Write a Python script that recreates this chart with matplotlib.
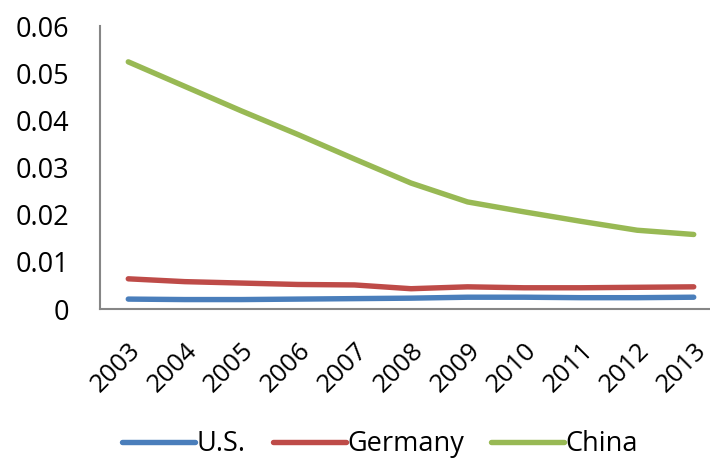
import matplotlib.pyplot as plt

years = ['2003', '2004', '2005', '2006', '2007', '2008', '2009', '2010', '2011', '2012', '2013']
us = [0.0021, 0.0020, 0.0020, 0.0021, 0.0022, 0.0023, 0.0025, 0.0025, 0.0024, 0.0024, 0.0025]
germany = [0.0064, 0.0058, 0.0055, 0.0052, 0.0051, 0.0043, 0.0047, 0.0045, 0.0045, 0.0046, 0.0047]
china = [0.0524, 0.0472, 0.0420, 0.0370, 0.0318, 0.0267, 0.0227, 0.0206, 0.0186, 0.0167, 0.0158]

plt.rcParams['font.family'] = ['Open Sans', 'DejaVu Sans']

fig = plt.figure(figsize=(7.1, 4.61), dpi=100)
ax = fig.add_axes([100 / 710, 1 - 309 / 461, 622 / 710, 283 / 461])

x = range(len(years))
ax.plot(x, us, color='#4A7EBB', lw=3.9, solid_capstyle='round', label='U.S.')
ax.plot(x, germany, color='#BE4B48', lw=3.9, solid_capstyle='round', label='Germany')
ax.plot(x, china, color='#98B954', lw=3.9, solid_capstyle='round', label='China')

ax.set_xlim(-0.5, len(years) - 0.5)
ax.set_ylim(0, 0.06)
ax.set_yticks([0, 0.01, 0.02, 0.03, 0.04, 0.05, 0.06])
ax.set_yticklabels(['0', '0.01', '0.02', '0.03', '0.04', '0.05', '0.06'], fontsize=19.5)
ax.set_xticks(list(x))
ax.set_xticklabels(years, fontsize=18.5, rotation=45, ha='right', va='top', rotation_mode='anchor')
ax.tick_params(axis='y', length=0, pad=22)
ax.tick_params(axis='x', length=0, pad=21)

for s in ['top', 'right']:
    ax.spines[s].set_visible(False)
for s in ['left', 'bottom']:
    ax.spines[s].set_color('#868686')
    ax.spines[s].set_linewidth(1.5)

leg = fig.legend(loc='center', bbox_to_anchor=(380 / 710, 1 - 444 / 461), ncol=3, frameon=False,
                 fontsize=19.5, handlelength=2.7, handletextpad=0.05, columnspacing=1.0)

fig.savefig('out.png', dpi=100)
